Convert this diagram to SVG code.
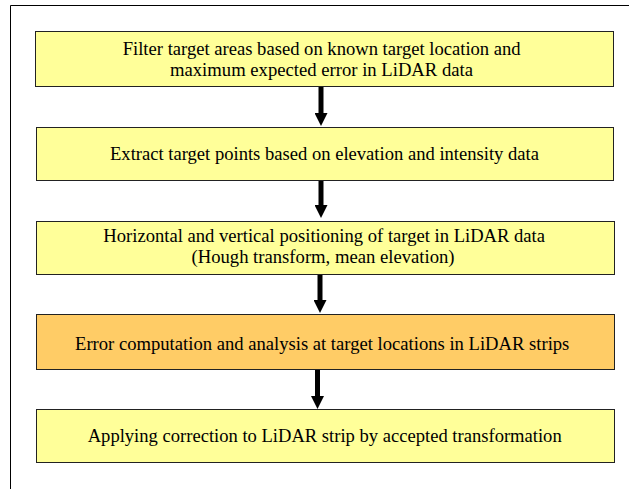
<svg xmlns="http://www.w3.org/2000/svg" width="629" height="489" viewBox="0 0 629 489">
<style>
.box{stroke:#222;stroke-width:1}
.y{fill:#FFFF99}
.o{fill:#FFCC66}
text{font-family:'Liberation Serif','DejaVu Serif','Noto Serif',Times,serif;font-size:18.6px;fill:#000;text-anchor:middle}
.conn line{stroke:#000;stroke-width:5}
</style>
<defs>
<marker id="ah" markerUnits="userSpaceOnUse" markerWidth="13" markerHeight="13" refX="0" refY="6.5" orient="auto">
<path d="M0,0 L13,6.5 L0,13 z" fill="#000"/>
</marker>
</defs>
<rect x="0" y="0" width="629" height="489" fill="#fff"/>
<path d="M10.5,489 V5.5 H629" fill="none" stroke="#000" stroke-width="1"/>
<g id="node1">
<rect class="box y" x="35.5" y="31.5" width="578" height="55"/>
<text x="321.7" y="55" textLength="398" lengthAdjust="spacingAndGlyphs">Filter target areas based on known target location and</text>
<text x="321.5" y="76" textLength="303" lengthAdjust="spacingAndGlyphs">maximum expected error in LiDAR data</text>
</g>
<g id="node2">
<rect class="box y" x="36.5" y="127.5" width="577" height="53"/>
<text x="324.5" y="160" textLength="429" lengthAdjust="spacingAndGlyphs">Extract target points based on elevation and intensity data</text>
</g>
<g id="node3">
<rect class="box y" x="36.5" y="221.5" width="578" height="53"/>
<text x="324.2" y="242" textLength="441.7" lengthAdjust="spacingAndGlyphs">Horizontal and vertical positioning of target in LiDAR data</text>
<text x="323" y="263" textLength="263" lengthAdjust="spacingAndGlyphs">(Hough transform, mean elevation)</text>
</g>
<g id="node4">
<rect class="box o" x="36.5" y="314.5" width="578" height="55"/>
<text x="322.2" y="350" textLength="494.3" lengthAdjust="spacingAndGlyphs">Error computation and analysis at target locations in LiDAR strips</text>
</g>
<g id="node5">
<rect class="box y" x="36.5" y="409.5" width="578" height="53"/>
<text x="324.7" y="442" textLength="474" lengthAdjust="spacingAndGlyphs">Applying correction to LiDAR strip by accepted transformation</text>
</g>
<g id="connectors" class="conn">
<line x1="321" y1="87" x2="321" y2="113" marker-end="url(#ah)"/>
<line x1="321" y1="181" x2="321" y2="205" marker-end="url(#ah)"/>
<line x1="320" y1="275" x2="320" y2="300" marker-end="url(#ah)"/>
<line x1="317.5" y1="370" x2="317.5" y2="396" marker-end="url(#ah)"/>
</g>
</svg>
